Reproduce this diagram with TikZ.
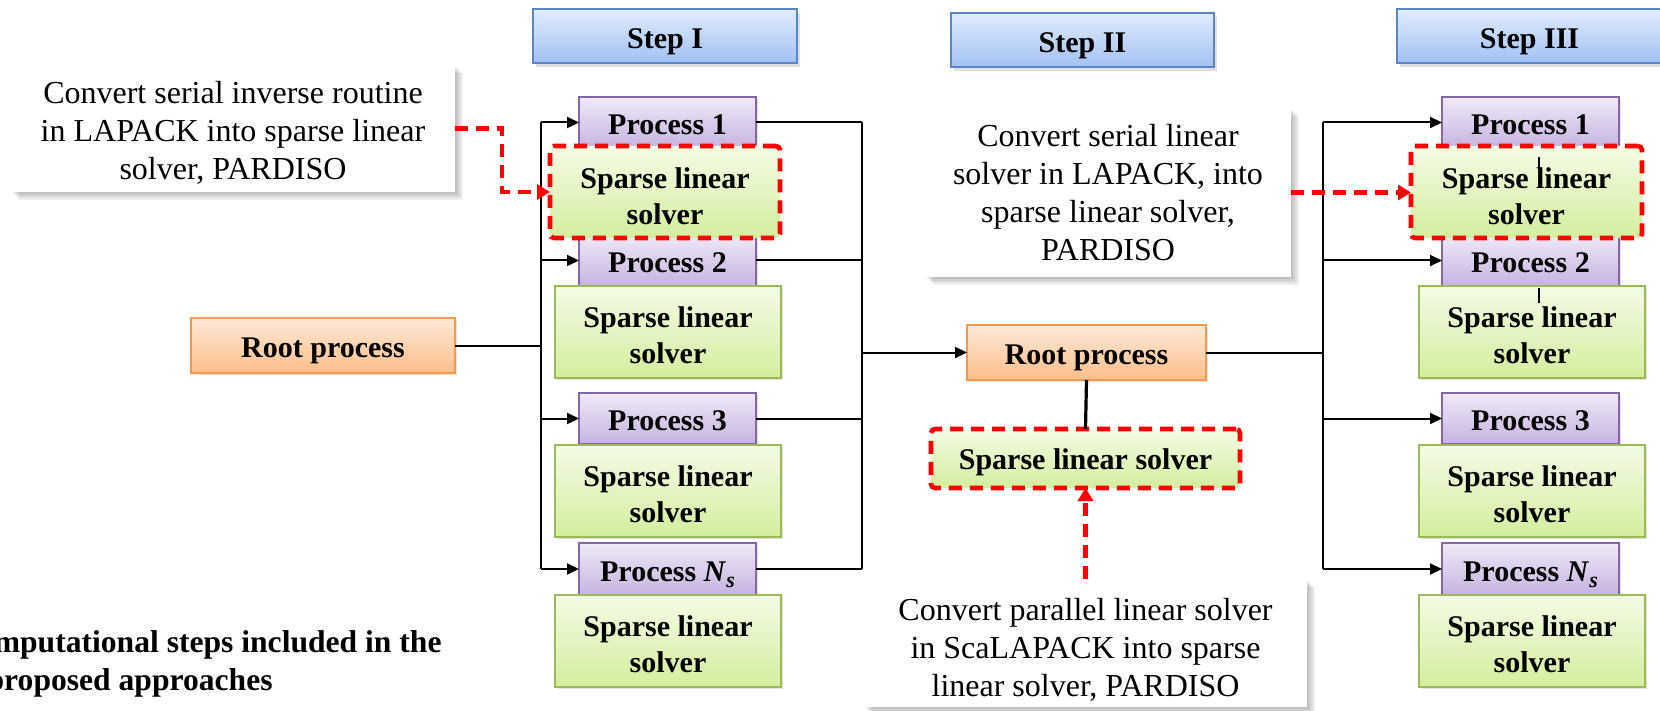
\documentclass[tikz,border=0pt]{standalone}
\usepackage{fontspec}
\setmainfont{Liberation Serif}
\usetikzlibrary{arrows.meta,shadows}

\definecolor{stepTop}{HTML}{E1ECFD}
\definecolor{stepBot}{HTML}{A2C1F2}
\definecolor{stepLine}{HTML}{5A86C8}
\definecolor{procTop}{HTML}{EFE9F7}
\definecolor{procBot}{HTML}{C6B3E0}
\definecolor{procLine}{HTML}{8566A8}
\definecolor{solvTop}{HTML}{F4FBE6}
\definecolor{solvBot}{HTML}{D3EE9E}
\definecolor{solvLine}{HTML}{9BBB59}
\definecolor{rootTop}{HTML}{FEE9D8}
\definecolor{rootBot}{HTML}{FBBE8A}
\definecolor{rootLine}{HTML}{F59A4C}

\newcommand\boxfont{\fontsize{15}{18}\selectfont\bfseries}
\newcommand\callfont{\fontsize{16}{19}\selectfont}
\newcommand\tstrut[1]{\rule{0pt}{#1}}
\newcommand\placebox[7]{\node[#2, minimum width={(#5-#3)*0.5pt}, minimum height={(#6-#4)*0.5pt}] (#1) at ({(#3+#5)/2},{(#4+#6)/2}) {#7};}
\newcommand\Ns{\textbf{\textit{N}}\raisebox{-0.45ex}{\fontsize{11}{11}\selectfont\bfseries\itshape s}}

\tikzset{
  box/.style={inner sep=0pt, outer sep=0pt, align=center, font=\boxfont, line width=0.8pt},
  oneline/.style={text height=13pt, text depth=0.6pt},
  stepbox/.style={box, oneline, draw=stepLine, top color=stepTop, bottom color=stepBot,
    drop shadow={shadow xshift=1.5pt, shadow yshift=-2pt, opacity=0.25}},
  procbox/.style={box, oneline, draw=procLine, top color=procTop, bottom color=procBot,
    drop shadow={shadow xshift=1pt, shadow yshift=-1.2pt, opacity=0.22}},
  solvbox/.style={box, draw=solvLine, top color=solvTop, bottom color=solvBot,
    drop shadow={shadow xshift=1pt, shadow yshift=-1.2pt, opacity=0.22}},
  redbox/.style={box, draw=red, top color=solvTop, bottom color=solvBot, line width=2.3pt,
    dash pattern=on 6.5pt off 4pt, rounded corners=2pt},
  rootbox/.style={box, oneline, draw=rootLine, top color=rootTop, bottom color=rootBot,
    drop shadow={shadow xshift=1pt, shadow yshift=-1.2pt, opacity=0.22}},
  softshadow/.style={
    preaction={fill=black, opacity=0.07, transform canvas={shift={(1pt,-1pt)}}},
    preaction={fill=black, opacity=0.07, transform canvas={shift={(2pt,-2pt)}}},
    preaction={fill=black, opacity=0.07, transform canvas={shift={(3pt,-3pt)}}},
    preaction={fill=black, opacity=0.06, transform canvas={shift={(4pt,-4pt)}}}},
  callout/.style={softshadow, inner sep=0pt, outer sep=0pt, align=center, font=\callfont, fill=white},
  conn/.style={line width=1pt, draw=black},
  thickconn/.style={line width=1.6pt, draw=black},
  arr/.style={conn, -{Triangle[length=6pt,width=5.5pt]}},
  redarr/.style={draw=red, line width=2.3pt, dash pattern=on 6.5pt off 4pt,
    -{Triangle[length=6.5pt,width=7.5pt]}},
  caption/.style={inner sep=0pt, font=\fontsize{15.8}{19}\selectfont\bfseries}
}

\begin{document}
\begin{tikzpicture}[x=0.5pt, y=-0.5pt]
\useasboundingbox (0,0) rectangle (1660,711);
\fill[white] (0,0) rectangle (1660,711);
\clip (0,0) rectangle (1660,711);

% step headers
\placebox{stepA}{stepbox}{533}{9}{797}{63}{Step I}
\placebox{stepB}{stepbox}{951}{13}{1214}{67}{Step II}
\placebox{stepC}{stepbox}{1397}{9}{1662}{63}{Step III}

% callouts
\placebox{C1}{callout}{11}{65}{455}{192}{\tstrut{15pt}Convert serial inverse routine\\in LAPACK into sparse linear\\solver, PARDISO}
\placebox{C2}{callout}{925}{108}{1291}{277}{\tstrut{11.5pt}Convert serial linear\\solver in LAPACK, into\\sparse linear solver,\\PARDISO}
\placebox{C3}{callout}{864}{579}{1307}{707}{\tstrut{18pt}Convert parallel linear solver\\in ScaLAPACK into sparse\\linear solver, PARDISO}

% root processes
\placebox{rootA}{rootbox}{191}{318}{455}{373}{Root process}
\placebox{rootB}{rootbox}{967}{325}{1206}{380}{Root process}
\placebox{SB}{redbox, text height=12pt, text depth=1pt}{931}{429}{1240}{488}{Sparse linear solver}

% step I column
\placebox{PA1}{procbox}{579}{97}{756}{148}{Process 1}
\placebox{PA2}{procbox}{579}{235}{756}{286}{Process 2}
\placebox{PA3}{procbox}{579}{393}{756}{444}{Process 3}
\placebox{PAn}{procbox}{579}{543}{756}{595}{Process \Ns}
\placebox{SA1}{redbox}{550}{146}{780}{238}{\tstrut{14.5pt}Sparse linear\\solver}
\placebox{SA2}{solvbox}{555}{286}{781}{378}{\tstrut{14pt}Sparse linear\\solver}
\placebox{SA3}{solvbox}{555}{445}{781}{537}{\tstrut{14pt}Sparse linear\\solver}
\placebox{SAn}{solvbox}{555}{595}{781}{687}{\tstrut{14pt}Sparse linear\\solver}

% step III column
\placebox{PC1}{procbox}{1442}{97}{1619}{148}{Process 1}
\placebox{PC2}{procbox}{1442}{235}{1619}{286}{Process 2}
\placebox{PC3}{procbox}{1442}{393}{1619}{444}{Process 3}
\placebox{PCn}{procbox}{1442}{543}{1619}{595}{Process \Ns}
\placebox{SC1}{redbox}{1411}{146}{1642}{238}{\tstrut{14.5pt}Sparse linear\\solver}
\placebox{SC2}{solvbox}{1419}{286}{1645}{378}{\tstrut{14pt}Sparse linear\\solver}
\placebox{SC3}{solvbox}{1419}{445}{1645}{537}{\tstrut{14pt}Sparse linear\\solver}
\placebox{SCn}{solvbox}{1419}{595}{1645}{687}{\tstrut{14pt}Sparse linear\\solver}

% small ticks in step III
\draw[conn] (1539,157) -- (1539,168);
\draw[conn] (1539,288) -- (1539,303);

% bus coordinates
\coordinate (busA) at (541,345);
\coordinate (busM) at (862,352.5);
\coordinate (busC) at (1323,352.5);

% step I distribution
\draw[conn] (rootA.east) -- (rootA.east -| busA);
\draw[conn] (PA1.west -| busA) -- (PAn.west -| busA);
\foreach \p in {PA1,PA2,PA3,PAn} \draw[arr] (\p.west -| busA) -- (\p.west);

% step I gather
\foreach \p in {PA1,PA2,PA3,PAn} \draw[conn] (\p.east) -- (\p.east -| busM);
\draw[conn] (PA1.east -| busM) -- (PAn.east -| busM);
\draw[arr] (busM) -- (rootB.west);

% step II
\draw[thickconn] (rootB.south) -- (SB.north);
\draw[conn] (rootB.east) -- (busC);
\draw[conn] (PC1.west -| busC) -- (PCn.west -| busC);
\foreach \p in {PC1,PC2,PC3,PCn} \draw[arr] (\p.west -| busC) -- (\p.west);

% red arrows
\coordinate (rc1) at (502,192);
\draw[redarr] (C1.east) -| (rc1) -- (SA1.west);
\draw[redarr] (C2.east) -- (C2.east -| SC1.west);
\draw[redarr] (C3.north) -- (C3.north |- SB.south);

% caption (cut off at left edge, as in the reference)
\node[caption, anchor=base east] (cap1) at (442,652) {Computational steps included in the};
\node[caption, anchor=base east] (cap2) at (273,690) {proposed approaches};
\end{tikzpicture}
\end{document}
